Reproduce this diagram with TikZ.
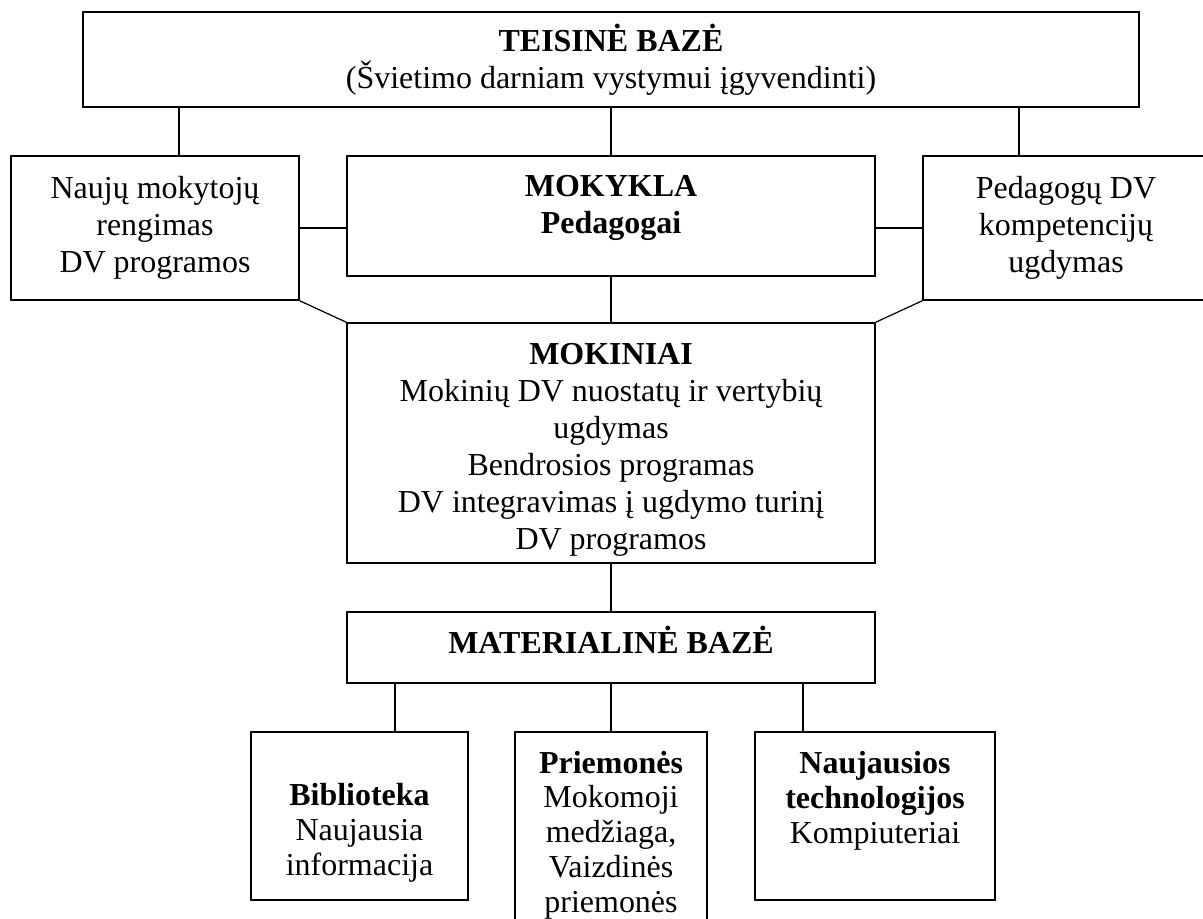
\documentclass[tikz,border=0pt]{standalone}
\usepackage{fontspec}
\setmainfont{Liberation Serif}
\tikzstyle{box}=[rectangle,draw=black,line width=0.9pt,inner sep=0pt,align=center,font=\fontsize{18.2}{21}\selectfont]
\tikzstyle{txt}=[inner sep=0pt,align=center,font=\fontsize{18.2}{21}\selectfont]
\tikzstyle{smalltxt}=[inner sep=0pt,align=center,font=\fontsize{18.2}{19.8}\selectfont]
\tikzstyle{link}=[draw=black,line width=0.7pt]

\begin{document}
\begin{tikzpicture}[x=0.02cm,y=-0.02cm]
        \clip (0,0) rectangle (1203,919);

        % upper level
        \node [style = box, minimum width=21.12cm, minimum height=1.9cm] (teisine) at (611,59.5) {\textbf{TEISINĖ BAZĖ}\\(Švietimo darniam vystymui įgyvendinti)};
        \node [style = box, minimum width=5.76cm, minimum height=2.88cm] (rengimas) at (155,228) {Naujų mokytojų\\rengimas\\DV programos};
        \node [style = box, minimum width=10.56cm, minimum height=2.4cm] (mokykla) at (611,216) {};
        \node [style = txt] (mokyklatxt) at (611,208) {\textbf{MOKYKLA}\\\textbf{Pedagogai}};
        \node [style = box, minimum width=5.72cm, minimum height=2.88cm] (kompet) at (1066,228) {Pedagogų DV\\kompetencijų\\ugdymas};

        % middle level
        \node [style = box, minimum width=10.56cm, minimum height=4.8cm] (mokiniai) at (611,443) {};
        \node [style = txt] (mokiniaitxt) at (611,450) {\textbf{MOKINIAI}\\Mokinių DV nuostatų ir vertybių\\ugdymas\\Bendrosios programas\\DV integravimas į ugdymo turinį\\DV programos};
        \node [style = box, minimum width=10.56cm, minimum height=1.42cm] (materiale) at (611,647.5) {};
        \node [style = txt] (materialetxt) at (611,640) {\textbf{MATERIALINĖ BAZĖ}};

        % lower level
        \node [style = box, minimum width=4.34cm, minimum height=3.36cm] (biblioteka) at (359.5,816) {};
        \node [style = box, minimum width=3.84cm, minimum height=4.56cm] (priemones) at (611,846) {};
        \node [style = box, minimum width=4.8cm, minimum height=3.36cm] (technol) at (875,816) {};
        \node [style = smalltxt] (bibliotekatxt) at (359.5,833) {\textbf{Biblioteka}\\Naujausia\\informacija};
        \node [style = smalltxt] (priemonestxt) at (611,835) {\textbf{Priemonės}\\Mokomoji\\medžiaga,\\Vaizdinės\\priemonės};
        \node [style = smalltxt] (technoltxt) at (875,801) {\textbf{Naujausios}\\\textbf{technologijos}\\Kompiuteriai};

        \coordinate (lcol) at (179,0);
        \coordinate (rcol) at (1019,0);
        \coordinate (bcol) at (395,0);
        \coordinate (ncol) at (803,0);

        \draw [style = link] (teisine.south -| lcol) to (rengimas.north -| lcol);
        \draw [style = link] (teisine.south) to (mokykla.north);
        \draw [style = link] (teisine.south -| rcol) to (kompet.north -| rcol);

        \draw [style = link] (rengimas.east) to (rengimas.east -| mokykla.west);
        \draw [style = link] (kompet.west) to (kompet.west -| mokykla.east);

        \draw [style = link] (rengimas.south east) to (mokiniai.north west);
        \draw [style = link] (kompet.south west) to (mokiniai.north east);
        \draw [style = link] (mokykla.south) to (mokiniai.north);
        \draw [style = link] (mokiniai.south) to (materiale.north);

        \draw [style = link] (materiale.south -| bcol) to (biblioteka.north -| bcol);
        \draw [style = link] (materiale.south) to (priemones.north);
        \draw [style = link] (materiale.south -| ncol) to (technol.north -| ncol);
\end{tikzpicture}
\end{document}
